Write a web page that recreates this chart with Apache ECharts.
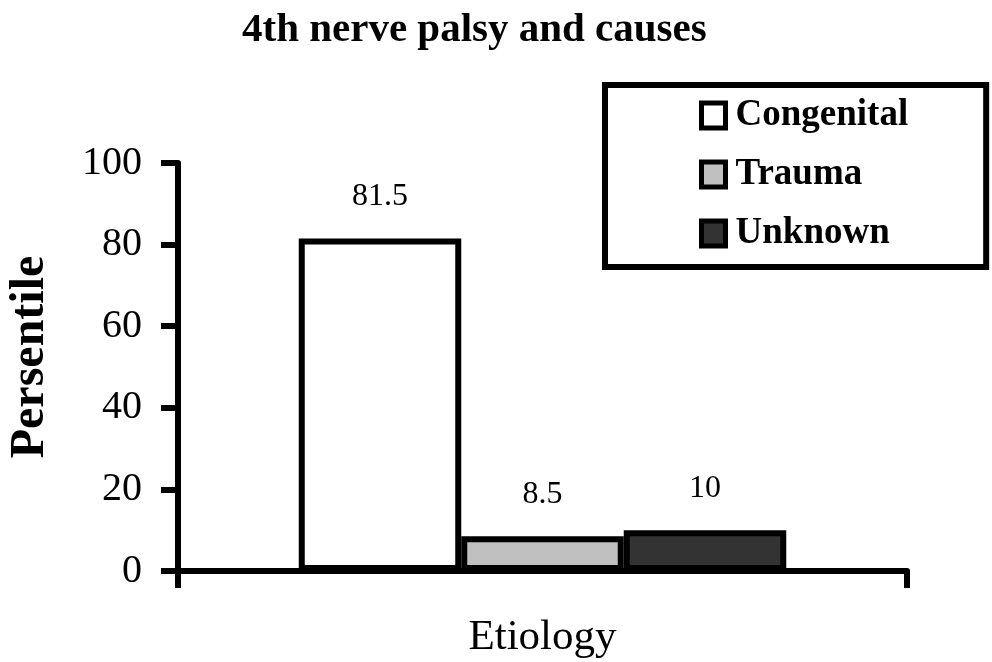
<!DOCTYPE html>
<html><head><meta charset="utf-8">
<script src="https://cdn.jsdelivr.net/npm/echarts@6/dist/echarts.min.js"></script>
<style>html,body{margin:0;padding:0;background:#fff}#c{width:992px;height:662px}</style>
</head><body><div id="c"></div>
<script>
const titleText = '4th nerve palsy and causes';
const categories = ['Etiology'];
const seriesNames = ['Congenital', 'Trauma', 'Unknown'];
const congenital = [81.5];
const trauma = [8.5];
const unknown = [10];
const yMin = 0, yMax = 100, yStep = 20;
const yAxisName = 'Persentile';
const colors = ['#ffffff', '#c0c0c0', '#333333'];
const serif = '"Liberation Serif", "Times New Roman", serif';
const seriesData = [congenital, trauma, unknown];

const chart = echarts.init(document.getElementById('c'), null, {renderer: 'canvas'});
chart.setOption({
  animation: false,
  backgroundColor: '#fff',
  title: {
    text: titleText, left: 242, top: 10, padding: 0,
    textStyle: {fontFamily: serif, fontWeight: 'bold', fontSize: 41, color: '#000'}
  },
  legend: {
    data: seriesNames, orient: 'vertical', left: 605, top: 85,
    padding: [12, 78, 15, 94], itemWidth: 24, itemHeight: 25, itemGap: 22,
    icon: 'rect', borderColor: '#000', borderWidth: 6, backgroundColor: '#fff',
    itemStyle: {borderColor: '#000', borderWidth: 5},
    textStyle: {fontFamily: serif, fontWeight: 'bold', fontSize: 37, color: '#000', padding: [0, 0, 0, 5]}
  },
  grid: {left: 178, right: 85, top: 163, bottom: 91, containLabel: false, outerBoundsMode: 'none'},
  xAxis: {
    type: 'category', data: categories,
    axisLine: {show: true, lineStyle: {color: '#000', width: 6}},
    axisTick: {show: true, length: 17, alignWithLabel: false, lineStyle: {color: '#000', width: 6}},
    axisLabel: {fontFamily: serif, fontSize: 43, color: '#000', margin: 45},
    splitLine: {show: false}
  },
  yAxis: {
    type: 'value', min: yMin, max: yMax, interval: yStep,
    name: yAxisName, nameLocation: 'middle', nameGap: 123, nameRotate: 90,
    nameTextStyle: {fontFamily: serif, fontWeight: 'bold', fontSize: 48, color: '#000', padding: [0, 0, 0, 20]},
    axisLine: {show: true, lineStyle: {color: '#000', width: 6}},
    axisTick: {show: true, length: 17, lineStyle: {color: '#000', width: 6}},
    axisLabel: {fontFamily: serif, fontSize: 40, color: '#000', margin: 36},
    splitLine: {show: false}
  },
  series: seriesNames.map((n, i) => ({
    name: n, type: 'bar', data: seriesData[i], barWidth: 162.5, barGap: '0%',
    itemStyle: {color: colors[i], borderColor: '#000', borderWidth: 6},
    label: {show: true, position: 'top', distance: 26, fontFamily: serif, fontSize: 32, color: '#000'}
  }))
});
</script></body></html>
